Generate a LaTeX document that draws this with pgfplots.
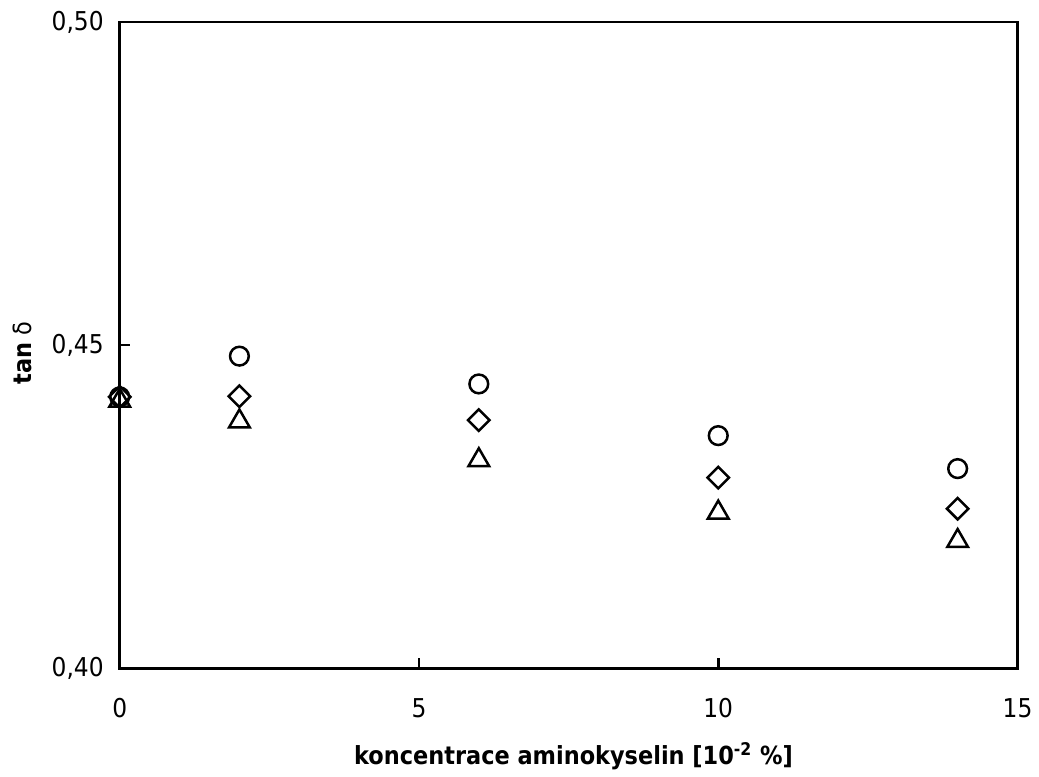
\documentclass[border=0pt]{standalone}
\usepackage{fontspec}
\setmainfont{DejaVu Sans Condensed}
\usepackage{pgfplots}
\pgfplotsset{compat=1.18}
\begin{document}
\begin{tikzpicture}
\begin{axis}[
  at={(0,0)}, anchor=south west,
  scale only axis, width=450pt, height=324pt,
  xmin=0, xmax=15, ymin=0.40, ymax=0.50,
  xtick={0,5,10,15}, ytick={0.40,0.45,0.50},
  tick align=inside, major tick length=5pt,
  xtick pos=bottom, ytick pos=left,
  axis line style={line width=1.3pt}, every tick/.style={line width=1.3pt, black},
  /pgf/number format/assume math mode=true,
  /pgf/number format/use comma,
  yticklabel={\pgfmathprintnumber[fixed, fixed zerofill, precision=2]{\tick}},
  tick label style={font=\fontsize{13}{15}\selectfont},
  xticklabel style={yshift=-11.5pt},
  yticklabel style={xshift=-4.5pt},
  xlabel={\textbf{koncentrace aminokyselin [10\textsuperscript{-2} \%]}},
  ylabel={\textbf{tan} δ},
  label style={font=\fontsize{12.5}{14}\selectfont},
  xlabel style={at={(axis description cs:0.5,0)}, anchor=center, yshift=-44pt, xshift=2.5pt},
  ylabel style={at={(axis description cs:0,0.5)}, anchor=center, yshift=49pt, xshift=-4pt},
  clip=false,
]
\addplot[only marks, mark=o, mark size=4.7pt, line width=1.25pt, black] coordinates {
  (0,0.4420) (2,0.4483) (6,0.4440) (10,0.4360) (14,0.4309)};
\addplot[only marks, mark=square, mark options={rotate=45}, mark size=3.8pt, line width=1.25pt, black] coordinates {
  (0,0.4420) (2,0.4421) (6,0.4384) (10,0.4295) (14,0.4247)};
\addplot[only marks, mark=triangle, mark size=6.0pt, line width=1.25pt, black] coordinates {
  (0,0.4414) (2,0.4382) (6,0.4322) (10,0.4241) (14,0.4197)};
\end{axis}
\useasboundingbox (-60pt,-50.5pt) rectangle (459.5pt,335pt);
\end{tikzpicture}
\end{document}
